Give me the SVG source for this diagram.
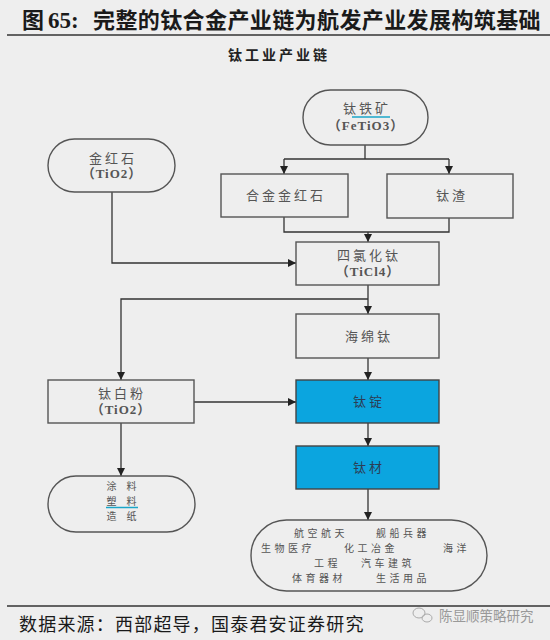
<svg xmlns="http://www.w3.org/2000/svg" width="550" height="640" viewBox="0 0 550 640">
<defs>
<marker id="arr" markerWidth="9" markerHeight="8" refX="8" refY="4" orient="auto" markerUnits="userSpaceOnUse">
<path d="M0,0 L8,4 L0,8 Z" fill="#222"/>
</marker>
<style>
.bg{fill:#eeeeee}
.box{fill:none;stroke:#555;stroke-width:1.4}
.blue{fill:#0ba5df;stroke:#444;stroke-width:1.4}
.lbl{font-family:"Noto Sans CJK SC","Noto Sans CJK JP",sans-serif;font-size:13px;fill:#555;text-anchor:middle;letter-spacing:3px}
.lat{font-family:"Liberation Serif","Noto Sans CJK SC",serif;font-size:13px;fill:#555;text-anchor:middle;font-weight:bold;letter-spacing:1px}
.app{font-family:"Noto Sans CJK SC","Noto Sans CJK JP",sans-serif;font-size:10px;fill:#555;letter-spacing:3.5px}
.ctl{font-family:"Noto Sans CJK SC","Noto Sans CJK JP",sans-serif;font-size:10px;fill:#555;text-anchor:middle;letter-spacing:10px}
.con path{fill:none;stroke:#333;stroke-width:1.3}
.ul{stroke:#1aa6c8;stroke-width:1.5}
</style>
</defs>
<rect class="bg" x="0" y="0" width="550" height="640"/>
<g id="header">
<text x="22" y="28" font-family="Noto Sans CJK SC,sans-serif" font-size="22" font-weight="bold" fill="#1a1a1a">图</text>
<text x="48" y="28" font-family="Liberation Serif,serif" font-size="23" font-weight="bold" fill="#1a1a1a">65:</text>
<text x="93" y="28" font-family="Noto Sans CJK SC,sans-serif" font-size="22" font-weight="bold" fill="#1a1a1a" letter-spacing="0.4">完整的钛合金产业链为航发产业发展构筑基础</text>
<line x1="7" y1="35" x2="550" y2="35" stroke="#333" stroke-width="1.3"/>
<text x="228" y="60" font-family="Noto Sans CJK SC,sans-serif" font-size="14" font-weight="bold" fill="#222" letter-spacing="3">钛工业产业链</text>
</g>
<g class="con" id="connectors">
<path d="M365,145 V159"/>
<path d="M284,159 H449"/>
<path d="M284,159 V174" marker-end="url(#arr)"/>
<path d="M449,159 V174" marker-end="url(#arr)"/>
<path d="M284,217 V232 H449 V218"/>
<path d="M368,232 V242" marker-end="url(#arr)"/>
<path d="M112,192 V263 H296" marker-end="url(#arr)"/>
<path d="M368,285 V314" marker-end="url(#arr)"/>
<path d="M368,299 H121 V380" marker-end="url(#arr)"/>
<path d="M368,358 V380" marker-end="url(#arr)"/>
<path d="M194,402 H296" marker-end="url(#arr)"/>
<path d="M368,423 V446" marker-end="url(#arr)"/>
<path d="M368,489 V520" marker-end="url(#arr)"/>
<path d="M121,423 V476" marker-end="url(#arr)"/>
</g>
<g id="ilmenite">
<rect class="box" x="303" y="90" width="125" height="55" rx="27.5"/>
<text class="lbl" x="367" y="113">钛铁矿</text>
<line class="ul" x1="352" y1="117" x2="390" y2="117"/>
<text class="lat" x="366" y="130">（FeTiO3）</text>
</g>
<g id="rutile">
<rect class="box" x="48" y="139" width="127" height="53" rx="26.5"/>
<text class="lbl" x="113" y="163">金红石</text>
<text class="lat" x="112" y="178">（TiO2）</text>
</g>
<g id="alloy-rutile">
<rect class="box" x="221" y="174" width="127" height="43"/>
<text class="lbl" x="286" y="200">合金金红石</text>
</g>
<g id="slag">
<rect class="box" x="387" y="174" width="126" height="44"/>
<text class="lbl" x="452" y="200">钛渣</text>
</g>
<g id="ticl4">
<rect class="box" x="296" y="242" width="143" height="43"/>
<text class="lbl" x="369" y="260">四氯化钛</text>
<text class="lat" x="368" y="276">（TiCl4）</text>
</g>
<g id="sponge">
<rect class="box" x="296" y="314" width="143" height="44"/>
<text class="lbl" x="369" y="341">海绵钛</text>
</g>
<g id="tio2-white">
<rect class="box" x="48" y="380" width="146" height="43"/>
<text class="lbl" x="122" y="398">钛白粉</text>
<text class="lat" x="121" y="414">（TiO2）</text>
</g>
<g id="ingot">
<rect class="blue" x="296" y="380" width="143" height="43"/>
<text class="lbl" x="369" y="406" style="fill:#2b3d55">钛锭</text>
</g>
<g id="material">
<rect class="blue" x="296" y="446" width="143" height="43"/>
<text class="lbl" x="369" y="472" style="fill:#2b3d55">钛材</text>
</g>
<g id="coatings">
<rect class="box" x="48" y="476" width="147" height="56" rx="28"/>
<text class="ctl"><tspan x="126.5" y="490">涂料</tspan><tspan x="126.5" y="505">塑料</tspan><tspan x="126.5" y="520">造纸</tspan></text>
<line class="ul" x1="106" y1="507.5" x2="138" y2="507.5"/>
</g>
<g id="applications">
<rect class="box" x="251" y="520" width="236" height="71" rx="35.5"/>
<text class="app"><tspan x="294" y="537">航空航天</tspan><tspan x="376" y="537">舰船兵器</tspan><tspan x="261" y="552">生物医疗</tspan><tspan x="344" y="552">化工冶金</tspan><tspan x="443" y="552">海洋</tspan><tspan x="314" y="567">工程</tspan><tspan x="361" y="567">汽车建筑</tspan><tspan x="292" y="582">体育器材</tspan><tspan x="376" y="582">生活用品</tspan></text>
</g>
<g id="footer">
<line x1="7" y1="606" x2="550" y2="606" stroke="#333" stroke-width="1.3"/>
<text x="19" y="631" font-family="Noto Sans CJK SC,sans-serif" font-size="18" fill="#1a1a1a" letter-spacing="1.2">数据来源：西部超导，国泰君安证券研究</text>
<ellipse cx="419" cy="613" rx="6" ry="5" fill="none" stroke="#aaa" stroke-width="1"/>
<ellipse cx="427" cy="618" rx="5" ry="4" fill="none" stroke="#aaa" stroke-width="1"/>
<text x="439" y="621" font-family="Noto Sans CJK SC,sans-serif" font-size="13.5" fill="#999">陈显顺策略研究</text>
</g>
</svg>
